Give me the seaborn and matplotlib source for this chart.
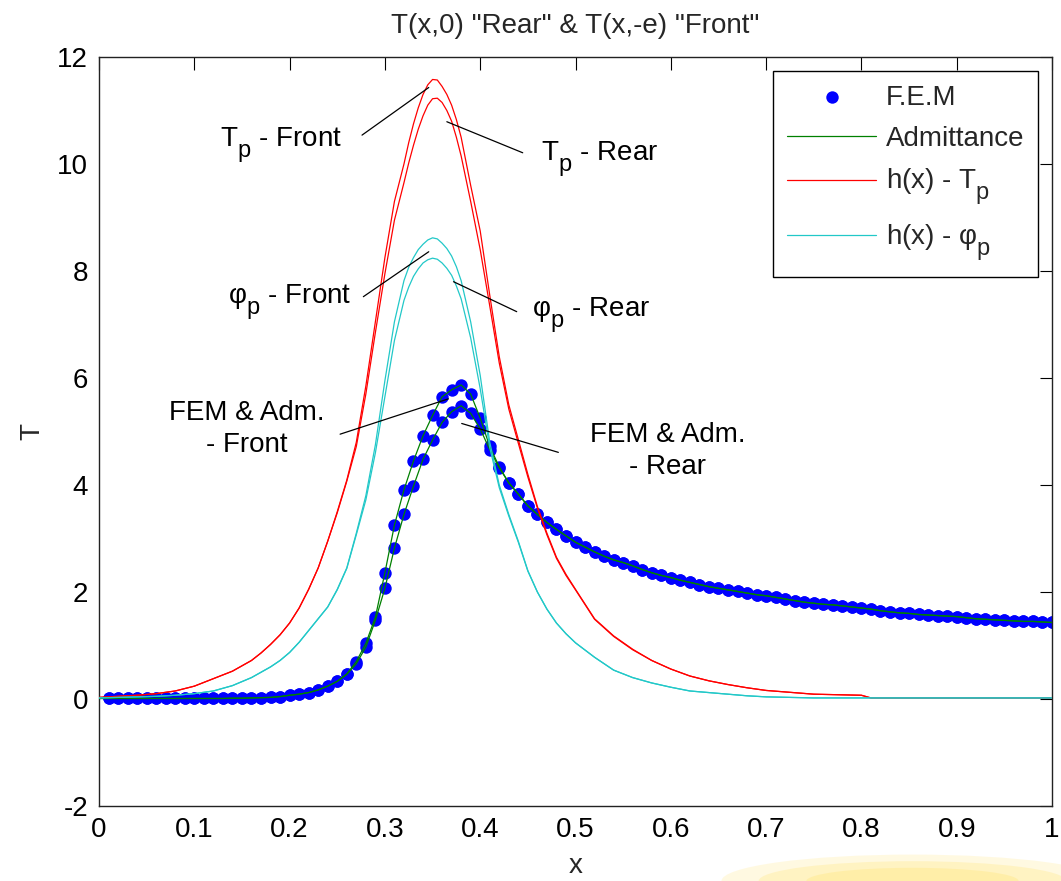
import numpy as np
import pandas as pd
import matplotlib
matplotlib.use("Agg")
import matplotlib.pyplot as plt
import seaborn as sns
from matplotlib.patches import Ellipse

# ---------------- data ----------------
fem_x = [round(0.01 * i, 2) for i in range(1, 101)]
fem_front = [0.01, 0.01, 0.01, 0.01, 0.01, 0.01, 0.01, 0.01, 0.01, 0.01,
             0.01, 0.01, 0.01, 0.015, 0.015, 0.02, 0.025, 0.03, 0.045, 0.07,
             0.09, 0.12, 0.17, 0.24, 0.33, 0.47, 0.70, 1.04, 1.53, 2.36,
             3.25, 3.91, 4.45, 4.92, 5.30, 5.65, 5.78, 5.87, 5.70, 5.25,
             4.72, 4.34, 4.04, 3.83, 3.61, 3.45, 3.30, 3.17, 3.05, 2.93,
             2.84, 2.75, 2.67, 2.60, 2.55, 2.49, 2.42, 2.36, 2.31, 2.27,
             2.22, 2.18, 2.14, 2.10, 2.07, 2.04, 2.01, 1.98, 1.95, 1.93,
             1.90, 1.87, 1.84, 1.81, 1.79, 1.77, 1.76, 1.74, 1.72, 1.70,
             1.68, 1.65, 1.63, 1.61, 1.60, 1.58, 1.57, 1.56, 1.55, 1.54,
             1.52, 1.50, 1.49, 1.48, 1.47, 1.46, 1.45, 1.45, 1.44, 1.43]
fem_rear = [0.01, 0.01, 0.01, 0.01, 0.01, 0.01, 0.01, 0.01, 0.01, 0.01,
            0.01, 0.01, 0.01, 0.015, 0.015, 0.02, 0.025, 0.03, 0.045, 0.07,
            0.09, 0.12, 0.17, 0.24, 0.33, 0.46, 0.66, 0.97, 1.47, 2.07,
            2.82, 3.45, 3.98, 4.48, 4.84, 5.17, 5.37, 5.48, 5.34, 5.05,
            4.66, 4.32, 4.04, 3.83, 3.61, 3.45, 3.30, 3.17, 3.05, 2.93,
            2.84, 2.75, 2.67, 2.60, 2.55, 2.49, 2.42, 2.36, 2.31, 2.27,
            2.22, 2.18, 2.14, 2.10, 2.07, 2.04, 2.01, 1.98, 1.95, 1.93,
            1.90, 1.87, 1.84, 1.81, 1.79, 1.77, 1.76, 1.74, 1.72, 1.70,
            1.68, 1.65, 1.63, 1.61, 1.60, 1.58, 1.57, 1.56, 1.55, 1.54,
            1.52, 1.50, 1.49, 1.48, 1.47, 1.46, 1.45, 1.45, 1.44, 1.43]

# Admittance curves coincide with the FEM points (plus the x = 0 start)
adm_x = [0.0] + fem_x
adm_front = [0.01] + fem_front
adm_rear = [0.01] + fem_rear

h_x = [0.00, 0.02, 0.04, 0.06, 0.08, 0.10, 0.12, 0.14, 0.16,
       0.17, 0.18, 0.19, 0.20, 0.21, 0.22, 0.23, 0.24, 0.25, 0.26,
       0.27, 0.28, 0.29, 0.30, 0.31, 0.32,
       0.325, 0.33, 0.335, 0.34, 0.345, 0.35, 0.355, 0.36, 0.365, 0.37,
       0.375, 0.38,
       0.39, 0.40, 0.41, 0.42, 0.43, 0.44, 0.45, 0.46, 0.47, 0.48, 0.49, 0.50,
       0.52, 0.54, 0.56, 0.58, 0.60, 0.62, 0.64, 0.66, 0.68, 0.70,
       0.75, 0.80, 0.81, 1.00]
tp_front = [0.03, 0.05, 0.07, 0.10, 0.15, 0.24, 0.38, 0.52, 0.72,
            0.86, 1.02, 1.20, 1.42, 1.70, 2.05, 2.45, 2.95, 3.50, 4.09,
            4.80, 5.85, 7.05, 8.25, 9.30, 10.00,
            10.40, 10.75, 11.05, 11.30, 11.48, 11.58, 11.57, 11.45, 11.30, 11.10,
            10.83, 10.50,
            9.60, 8.75, 7.55, 6.40, 5.50, 4.85, 4.20, 3.60, 3.10, 2.65, 2.33, 2.05,
            1.50, 1.18, 0.93, 0.72, 0.56, 0.43, 0.34, 0.27, 0.21, 0.16,
            0.09, 0.07, 0.02, 0.02]
tp_rear = [0.03, 0.05, 0.07, 0.10, 0.15, 0.24, 0.38, 0.52, 0.72,
           0.86, 1.02, 1.20, 1.42, 1.70, 2.05, 2.45, 2.95, 3.48, 4.07,
           4.72, 5.70, 6.85, 7.95, 8.95, 9.65,
           10.02, 10.35, 10.65, 10.90, 11.10, 11.22, 11.23, 11.15, 11.00, 10.80,
           10.50, 10.15,
           9.30, 8.40, 7.35, 6.28, 5.42, 4.78, 4.15, 3.57, 3.07, 2.63, 2.31, 2.04,
           1.49, 1.17, 0.92, 0.72, 0.56, 0.43, 0.34, 0.27, 0.21, 0.16,
           0.09, 0.07, 0.02, 0.02]
phi_front = [0.02, 0.03, 0.04, 0.05, 0.07, 0.10, 0.15, 0.25, 0.40,
             0.50, 0.60, 0.72, 0.87, 1.06, 1.28, 1.50, 1.72, 2.05, 2.45,
             3.10, 3.80, 4.75, 5.95, 7.05, 7.82,
             8.07, 8.25, 8.40, 8.50, 8.58, 8.62, 8.60, 8.52, 8.42, 8.28,
             8.08, 7.82,
             7.05, 6.05, 4.80, 4.00, 3.45, 2.95, 2.40, 2.00, 1.68, 1.42, 1.22, 1.05,
             0.78, 0.54, 0.40, 0.30, 0.22, 0.15, 0.12, 0.09, 0.06, 0.04,
             0.02, 0.02, 0.02, 0.02]
phi_rear = [0.02, 0.03, 0.04, 0.05, 0.07, 0.10, 0.15, 0.25, 0.40,
            0.50, 0.60, 0.72, 0.87, 1.06, 1.28, 1.50, 1.72, 2.04, 2.44,
            3.07, 3.72, 4.60, 5.65, 6.70, 7.45,
            7.70, 7.90, 8.04, 8.15, 8.21, 8.24, 8.22, 8.15, 8.05, 7.92,
            7.72, 7.48,
            6.75, 5.80, 4.70, 3.95, 3.42, 2.93, 2.39, 2.00, 1.68, 1.42, 1.22, 1.05,
            0.78, 0.54, 0.40, 0.30, 0.22, 0.15, 0.12, 0.09, 0.06, 0.04,
            0.02, 0.02, 0.02, 0.02]

x_ticks = [0, 0.1, 0.2, 0.3, 0.4, 0.5, 0.6, 0.7, 0.8, 0.9, 1]
x_tick_labels = ["0", "0.1", "0.2", "0.3", "0.4", "0.5", "0.6", "0.7", "0.8", "0.9", "1"]
y_ticks = [-2, 0, 2, 4, 6, 8, 10, 12]
y_tick_labels = ["-2", "0", "2", "4", "6", "8", "10", "12"]

title_text = 'T(x,0) "Rear" & T(x,-e) "Front"'
legend_labels = ["F.E.M", "Admittance", r"h(x) - T$_\mathregular{p}$", r"h(x) - φ$_\mathregular{p}$"]

# annotations: text, text position, leader line (start, end)
annotations = [
    dict(text=r"T$_\mathregular{p}$ - Front", pos=(0.127, 10.32), ha="left",
         line=((0.276, 10.54), (0.346, 11.43))),
    dict(text=r"T$_\mathregular{p}$ - Rear", pos=(0.464, 10.07), ha="left",
         line=((0.365, 10.79), (0.4446, 10.21))),
    dict(text=r"φ$_\mathregular{p}$ - Front", pos=(0.135, 7.38), ha="left",
         line=((0.2774, 7.52), (0.346, 8.36))),
    dict(text=r"φ$_\mathregular{p}$ - Rear", pos=(0.454, 7.14), ha="left",
         line=((0.372, 7.80), (0.4383, 7.24))),
    dict(text="FEM & Adm.\n- Front", pos=(0.155, 5.05), ha="center",
         line=((0.253, 4.95), (0.3666, 5.61))),
    dict(text="FEM & Adm.\n- Rear", pos=(0.597, 4.64), ha="center",
         line=((0.3806, 5.15), (0.482, 4.61))),
]

# ---------------- style ----------------
sns.set_theme(style="white")
plt.rcParams["font.family"] = ["Liberation Sans", "DejaVu Sans"]
plt.rcParams["mathtext.fontset"] = "custom"
plt.rcParams["mathtext.rm"] = "Liberation Sans"
plt.rcParams["mathtext.it"] = "Liberation Sans:italic"
plt.rcParams["mathtext.bf"] = "Liberation Sans:bold"

# MATLAB-like subscripts: larger and lower than mathtext's defaults
try:
    import matplotlib._mathtext as _mt
    _mt.SHRINK_FACTOR = 0.85
    _mt.FontConstantsBase.sub1 = 0.75
    _mt.FontConstantsBase.sub2 = 0.9
except Exception:
    pass

FS = 20
BLUE = "#0000FF"
GREEN = "#008000"
RED = "#FF0000"
CYAN = "#22C8C8"

fig = plt.figure(figsize=(10.61, 8.81), dpi=100)
ax = fig.add_axes([99 / 1061, 1 - 806 / 881, (1052 - 99) / 1061, (806 - 57) / 881])
ax.set_facecolor("white")

df_fem = pd.DataFrame({"x": fem_x * 2, "T": fem_front + fem_rear})
df_adm_f = pd.DataFrame({"x": adm_x, "T": adm_front})
df_adm_r = pd.DataFrame({"x": adm_x, "T": adm_rear})

sns.scatterplot(data=df_fem, x="x", y="T", color=BLUE, s=80, linewidth=0,
                ax=ax, zorder=2, label=legend_labels[0])
sns.lineplot(data=df_adm_f, x="x", y="T", color=GREEN, lw=0.9, ax=ax,
             estimator=None, sort=False, zorder=3, label=legend_labels[1])
sns.lineplot(data=df_adm_r, x="x", y="T", color=GREEN, lw=0.9, ax=ax,
             estimator=None, sort=False, zorder=3)
sns.lineplot(x=h_x, y=tp_front, color=RED, lw=0.9, ax=ax,
             estimator=None, sort=False, zorder=3, label=legend_labels[2])
sns.lineplot(x=h_x, y=tp_rear, color=RED, lw=0.9, ax=ax,
             estimator=None, sort=False, zorder=3)
sns.lineplot(x=h_x, y=phi_front, color=CYAN, lw=0.9, ax=ax,
             estimator=None, sort=False, zorder=3, label=legend_labels[3])
sns.lineplot(x=h_x, y=phi_rear, color=CYAN, lw=0.9, ax=ax,
             estimator=None, sort=False, zorder=3)

# annotations
for a in annotations:
    (x0, y0), (x1, y1) = a["line"]
    ax.annotate("", xy=(x1, y1), xytext=(x0, y0),
                arrowprops=dict(arrowstyle="-", lw=0.9, color="black",
                                shrinkA=0, shrinkB=0), zorder=4)
    ax.text(a["pos"][0], a["pos"][1], a["text"], ha=a["ha"],
            va="baseline" if "\n" not in a["text"] else "center",
            multialignment="center", fontsize=FS, color="black",
            linespacing=1.3, zorder=5)

# axes
ax.set_xlim(0, 1)
ax.set_ylim(-2, 12)
ax.set_xticks(x_ticks)
ax.set_xticklabels(x_tick_labels)
ax.set_yticks(y_ticks)
ax.set_yticklabels(y_tick_labels)
ax.tick_params(direction="in", top=True, right=True, length=9, width=0.8,
               labelsize=FS, colors="black", pad=8)
for sp in ax.spines.values():
    sp.set_visible(True)
    sp.set_color("#222222")
    sp.set_linewidth(1.0)
ax.set_xlabel("x", fontsize=FS, labelpad=7)
ax.set_ylabel("T", fontsize=FS, labelpad=8)
ax.set_title(title_text, fontsize=FS, pad=17)

handles, labels = ax.get_legend_handles_labels()
order = [labels.index(l) for l in legend_labels]
leg = ax.legend([handles[i] for i in order], [labels[i] for i in order],
                loc="upper right", fontsize=FS, frameon=True, fancybox=False,
                framealpha=1, edgecolor="black", borderaxespad=0.5,
                handlelength=3.2, handletextpad=0.35, labelspacing=0.55,
                borderpad=0.5, scatterpoints=1, markerscale=1.0)
leg.get_frame().set_linewidth(1.0)

# faint yellow glow at bottom right (background artefact of the reference)
for w, h, al in [(0.36, 0.06, 0.25), (0.29, 0.045, 0.35), (0.20, 0.03, 0.45)]:
    fig.patches.append(Ellipse((0.86, 0.0), w, h, transform=fig.transFigure,
                               facecolor="#FFE98A", edgecolor="none",
                               alpha=al, zorder=0))

fig.savefig("out.png", dpi=100, facecolor="white")
